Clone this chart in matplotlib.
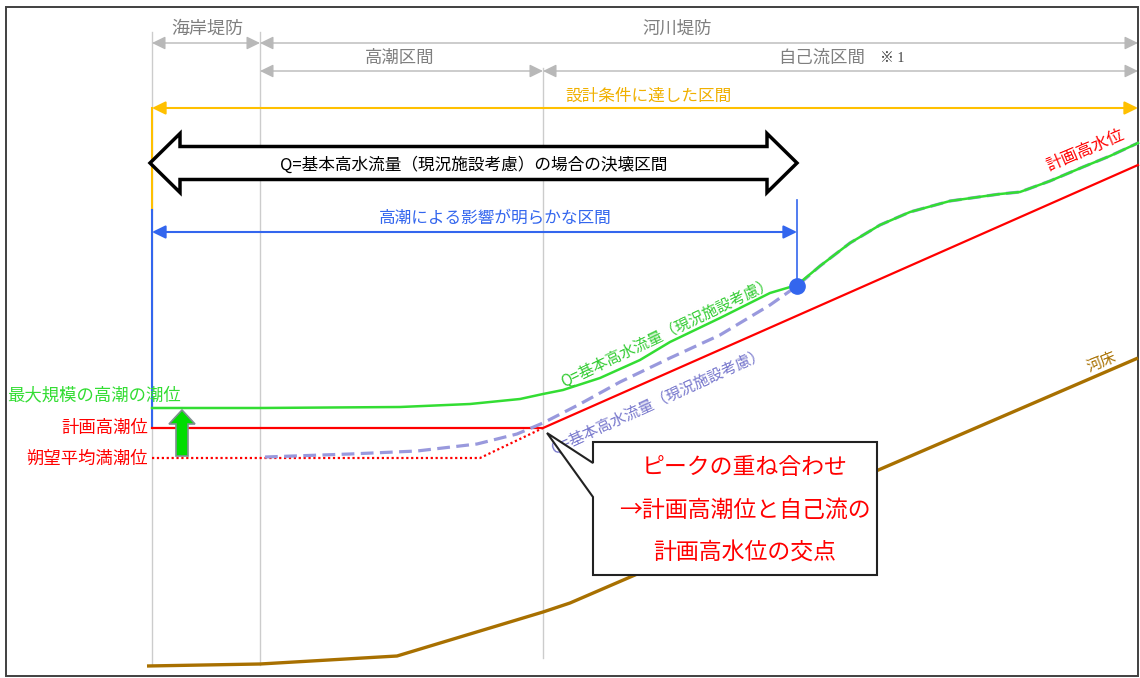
import matplotlib.pyplot as plt
from matplotlib.patches import Polygon, Rectangle, FancyArrow

plt.rcParams['font.family'] = ['Noto Sans CJK JP', 'DejaVu Sans']

# Section boundaries along the river (schematic units)
x_sea0, x_sea1, x_tide1, x_end = 152, 260, 543, 1138
x_break = 797

# Water level profiles (x, elevation on the picture scale)
green_x = [152, 260, 400, 470, 520, 543, 563, 600, 640, 670, 720, 770, 797,
           820, 850, 880, 910, 950, 1000, 1020, 1050, 1083, 1110, 1138]
green_y = [408, 408, 407, 404, 399, 394, 390, 378, 360, 342, 318, 293, 285,
           266, 243, 225, 212, 201, 194, 192, 181, 167, 156, 143]

red_x = [152, 543, 1138]
red_y = [428, 428, 165]

dotted_x = [152, 480, 543]
dotted_y = [458, 458, 428]

dashed_x = [265, 350, 417, 477, 517, 543, 580, 620, 670, 720, 770, 797,
            820, 850, 880, 910, 950, 1000, 1020, 1050, 1083, 1110, 1138]
dashed_y = [457, 454, 451, 444, 434, 423, 404, 382, 358, 335, 305, 286,
            266, 243, 225, 212, 201, 194, 192, 181, 167, 156, 143]

bed_x = [147, 260, 397, 543, 570, 1138]
bed_y = [666, 664, 656, 612, 603, 358]

grey = '#b8b8b8'
green = '#33dd33'
red = '#ff0000'
blue = '#3366ee'
yellow = '#ffc000'
lav = '#9999dd'
brown = '#a87000'

fig = plt.figure(figsize=(11.4, 6.78), dpi=100)
ax = fig.add_axes([0, 0, 1, 1])
ax.set_xlim(0, 1140)
ax.set_ylim(678, 0)
ax.axis('off')

# frame
ax.add_patch(Rectangle((6, 7), 1132, 669, fill=False, ec='#404040', lw=1.4, zorder=1))

# grey vertical guide lines
ax.plot([x_sea0, x_sea0], [32, 665], color='#cccccc', lw=1, zorder=1)
ax.plot([x_sea1, x_sea1], [32, 665], color='#cccccc', lw=1, zorder=1)
ax.plot([x_tide1, x_tide1], [68, 658], color='#cccccc', lw=1, zorder=1)


def dim_arrow(x0, x1, y, c, lw=1.0):
    ax.annotate('', xy=(x1, y), xytext=(x0, y),
                arrowprops=dict(arrowstyle='<|-|>,head_length=0.45,head_width=0.22',
                                color=c, lw=lw, mutation_scale=18,
                                shrinkA=0, shrinkB=0), zorder=2)


dim_arrow(x_sea0, x_sea1, 43, grey)
dim_arrow(x_sea1, x_end, 43, grey)
dim_arrow(x_sea1, x_tide1, 71, grey)
dim_arrow(x_tide1, x_end, 71, grey)
ax.text(207, 29, '海岸堤防', ha='center', va='center', fontsize=13, color='#7f7f7f')
ax.text(677, 29, '河川堤防', ha='center', va='center', fontsize=12.5, color='#7f7f7f')
ax.text(400, 58, '高潮区間', ha='center', va='center', fontsize=12.5, color='#7f7f7f')
ax.text(822, 58, '自己流区間', ha='center', va='center', fontsize=12.5, color='#7f7f7f')
ax.text(880, 58, '※ 1', ha='left', va='center', fontsize=10, color='#404040',
        family=['Liberation Serif', 'Noto Sans CJK JP'])

# yellow arrow
dim_arrow(x_sea0, x_end, 108, yellow, lw=1.5)
ax.plot([x_sea0, x_sea0], [108, 210], color=yellow, lw=1.5, zorder=2)
ax.text(649, 96, '設計条件に達した区間', ha='center', va='center', fontsize=12, color='#f0b000')

# big hollow double arrow
x0, x1, yc, sh, hh, hl = 150, x_break, 163, 16.5, 29.5, 30
pts = [(x0, yc), (x0 + hl, yc - hh), (x0 + hl, yc - sh), (x1 - hl, yc - sh),
       (x1 - hl, yc - hh), (x1, yc), (x1 - hl, yc + hh), (x1 - hl, yc + sh),
       (x0 + hl, yc + sh), (x0 + hl, yc + hh)]
ax.add_patch(Polygon(pts, closed=True, fc='white', ec='black', lw=2.5,
                     joinstyle='miter', zorder=4))
ax.text((x0 + x1) / 2, 165, 'Q=基本高水流量（現況施設考慮）の場合の決壊区間',
        ha='center', va='center', fontsize=12, color='black', zorder=5)

# blue arrow
dim_arrow(x_sea0, x_break, 232, blue, lw=1.5)
ax.plot([x_sea0, x_sea0], [210, 426], color=blue, lw=1.5, zorder=2)
ax.plot([x_break, x_break], [200, 286], color=blue, lw=1.2, zorder=2)
ax.text(495, 218, '高潮による影響が明らかな区間', ha='center', va='center',
        fontsize=12, color=blue)

# profiles
ax.plot(bed_x, bed_y, color=brown, lw=2.4, zorder=3, solid_capstyle='butt')
ax.plot(dotted_x, dotted_y, color=red, lw=1.6, ls=(0, (1, 1.2)), zorder=3)
ax.plot(red_x, red_y, color=red, lw=1.6, zorder=3)
ax.plot(dashed_x, dashed_y, color=lav, lw=2.3, ls=(0, (4, 2)), zorder=3)
ax.plot(green_x, green_y, color=green, lw=1.8, zorder=3)
ax.plot([x_break], [286], 'o', ms=11, color=blue, zorder=4)

# green rise arrow
ax.add_patch(FancyArrow(182, 456, 0, -46, width=12, head_width=26, head_length=14,
                        length_includes_head=True, fc='#00dd00', ec='#7f8f8f',
                        lw=1.2, zorder=4))

# left labels
ax.text(7, 395, '最大規模の高潮の潮位', ha='left', va='center', fontsize=12.5, color=green)
ax.text(148, 428, '計画高潮位', ha='right', va='center', fontsize=12.5, color=red)
ax.text(148, 459, '朔望平均満潮位', ha='right', va='center', fontsize=12.5, color=red)

# line labels
ax.text(667, 333, 'Q=基本高水流量（現況施設考慮）', ha='center', va='center',
        fontsize=11, color='#33cc33', rotation=25.6, rotation_mode='anchor')
ax.text(658, 401, 'Q=基本高水流量（現況施設考慮）', ha='center', va='center',
        fontsize=11, color='#7777cc', rotation=24.6, rotation_mode='anchor')
ax.text(1085, 151, '計画高水位', ha='center', va='center', fontsize=12, color=red,
        rotation=23, rotation_mode='anchor')
ax.text(1102, 362, '河床', ha='center', va='center', fontsize=11, color=brown,
        rotation=22, rotation_mode='anchor')

# callout
bx0, bx1, by0, by1 = 593, 877, 442, 575
tip = (547, 433)
call = [(bx0, by0), (bx1, by0), (bx1, by1), (bx0, by1), (bx0, 497), tip, (bx0, 463)]
ax.add_patch(Polygon(call, closed=True, fc='white', ec='#222222', lw=1.5, zorder=6))
ax.text(745, 467, 'ピークの重ね合わせ', ha='center', va='center', fontsize=16.5, color=red, zorder=7)
ax.text(745, 510, '→計画高潮位と自己流の', ha='center', va='center', fontsize=16.5, color=red, zorder=7)
ax.text(745, 553, '計画高水位の交点', ha='center', va='center', fontsize=16.5, color=red, zorder=7)

fig.savefig('out.png', dpi=100)
